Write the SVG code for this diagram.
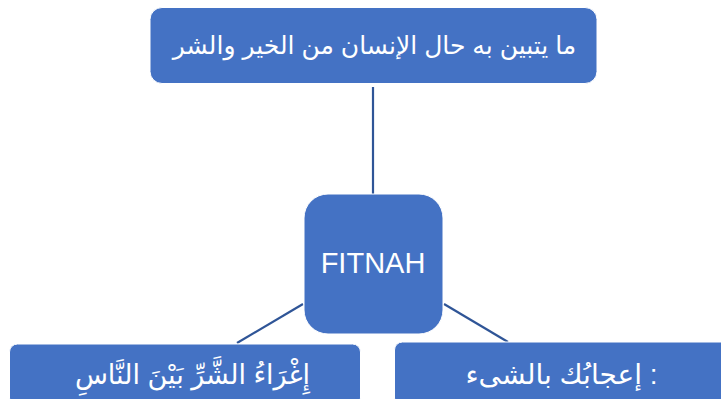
<svg xmlns="http://www.w3.org/2000/svg" width="721" height="399" viewBox="0 0 721 399">
<style>
.box{fill:#4472C4;stroke:#ffffff;stroke-width:1}
.t{fill:#ffffff;font-family:"Liberation Sans","DejaVu Sans",sans-serif;text-anchor:middle}
.ar{direction:rtl;unicode-bidi:embed}
.c{stroke:#2F5597;stroke-width:2.2;fill:none}
</style>
<rect width="721" height="399" fill="#ffffff"/>
<g id="connectors">
<line class="c" x1="373" y1="87" x2="373" y2="194"/>
<line class="c" x1="303" y1="304" x2="237" y2="343"/>
<line class="c" x1="444" y1="304" x2="508" y2="342"/>
</g>
<g id="node-top">
<rect class="box" x="150" y="7.5" width="447" height="76" rx="12"/>
<text class="t ar" x="374.5" y="54" font-size="25">ما يتبين به حال الإنسان من الخير والشر</text>
</g>
<g id="node-center">
<rect class="box" x="304" y="194" width="139" height="140" rx="24"/>
<text class="t" x="373" y="273" font-size="29">FITNAH</text>
</g>
<g id="node-left">
<rect class="box" x="9.5" y="344" width="351" height="62" rx="8"/>
<text class="t ar" x="192.5" y="384" font-size="27">إِغْرَاءُ الشَّرِّ بَيْنَ النَّاسِ</text>
</g>
<g id="node-right">
<rect class="box" x="394.5" y="342" width="340" height="64" rx="8"/>
<text class="t ar" x="561.5" y="384" font-size="28">: إعجابُك بالشىء</text>
</g>
</svg>
